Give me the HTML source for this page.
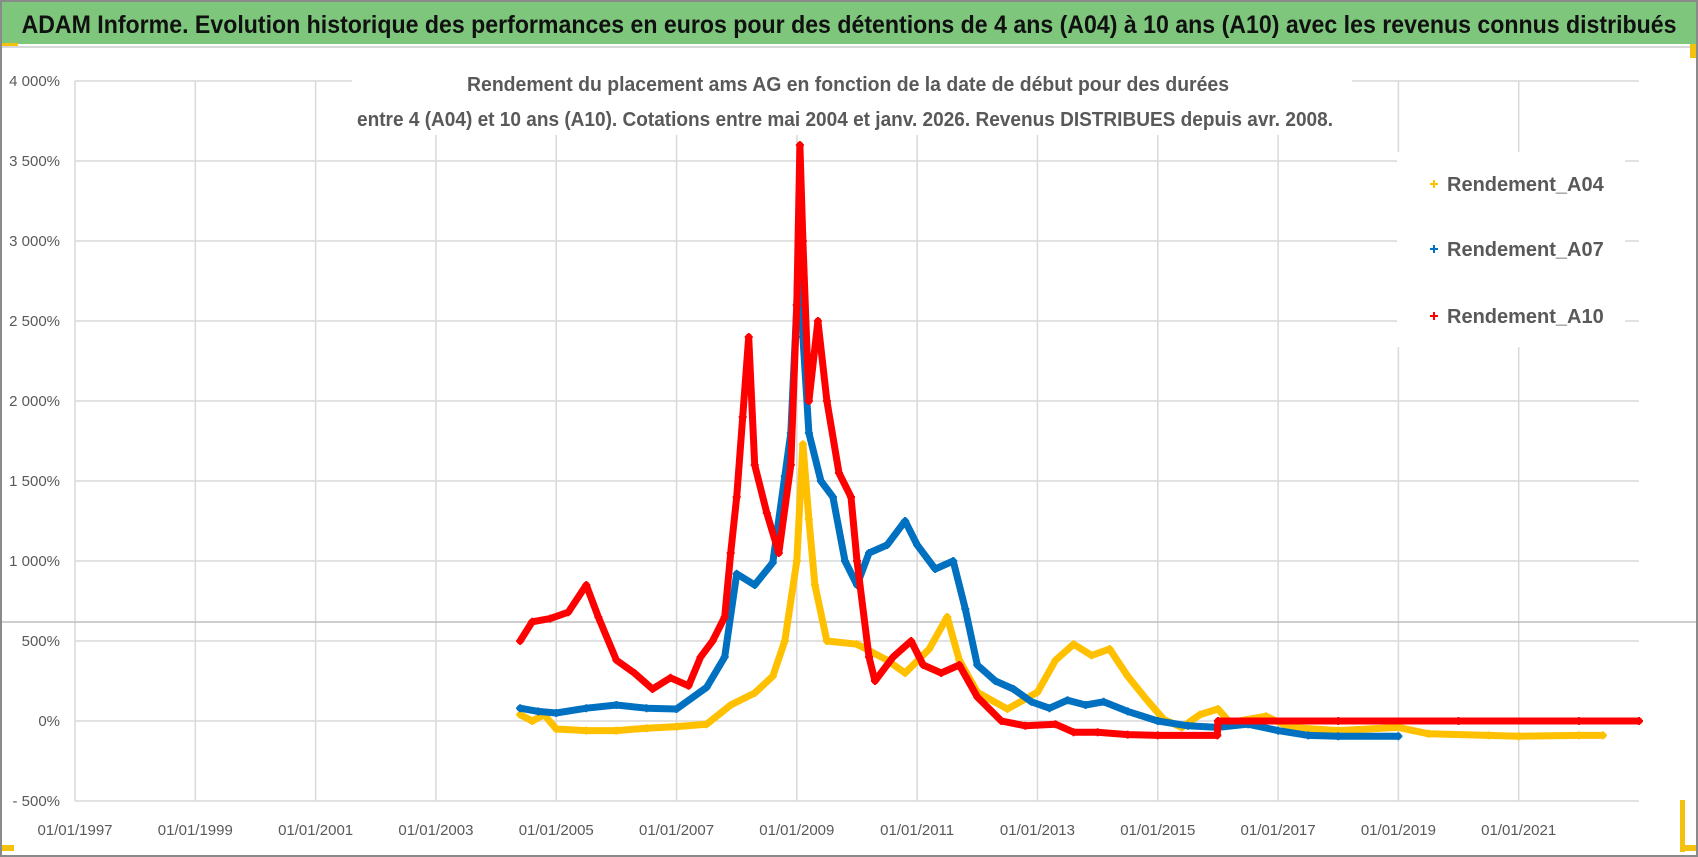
<!DOCTYPE html>
<html><head><meta charset="utf-8"><style>
html,body{margin:0;padding:0;background:#fff;}
svg{display:block;font-family:"Liberation Sans Narrow","Liberation Sans",sans-serif;}
</style></head><body>
<svg id="chart" width="1698" height="857" viewBox="0 0 1698 857" xmlns="http://www.w3.org/2000/svg">
<rect x="0" y="0" width="1698" height="857" fill="#fff"/>
<rect x="1" y="1" width="1696" height="855" fill="none" stroke="#8a8a8a" stroke-width="2"/>
<rect x="2" y="2" width="1694" height="42" fill="#7dc67c"/>
<text x="849" y="33" text-anchor="middle" font-size="25" font-weight="bold" fill="#111" textLength="1655" lengthAdjust="spacingAndGlyphs">ADAM Informe. Evolution historique des performances en euros pour des détentions de 4 ans (A04) à 10 ans (A10) avec les revenus connus distribués</text>
<line x1="2" y1="47" x2="1696" y2="47" stroke="#d8d8d8" stroke-width="2"/>
<rect x="2" y="43" width="16" height="3" fill="#f4c10f"/>
<rect x="2" y="845" width="12" height="6" fill="#f4c10f"/>
<rect x="1680" y="800" width="5" height="52" fill="#f4c10f"/>
<rect x="1680" y="845" width="16" height="6" fill="#f4c10f"/>
<rect x="1690" y="44" width="6" height="14" fill="#f4c10f"/>
<g id="grid"></g>
<g id="axes"></g>
<line x1="2" y1="622" x2="1696" y2="622" stroke="#bdbdbd" stroke-width="1.5"/>
<rect x="352" y="60" width="1000" height="75" fill="#fff"/>
<text x="848" y="91" text-anchor="middle" font-size="20" font-weight="bold" fill="#595959" textLength="762" lengthAdjust="spacingAndGlyphs">Rendement du placement ams AG en fonction de la date de début pour des durées</text>
<text x="845" y="126" text-anchor="middle" font-size="20" font-weight="bold" fill="#595959" textLength="976" lengthAdjust="spacingAndGlyphs">entre 4 (A04) et 10 ans (A10).  Cotations entre mai 2004 et janv. 2026. Revenus DISTRIBUES depuis avr. 2008.</text>
<g id="series"></g>
<g id="legend">
<rect x="1397" y="152" width="228" height="195" fill="#fff"/>
</g>
</svg>
<script>
const NS='http://www.w3.org/2000/svg';
const yTicks=[4000,3500,3000,2500,2000,1500,1000,500,0,-500];
const yTickLabels=['4 000%','3 500%','3 000%','2 500%','2 000%','1 500%','1 000%','500%','0%','- 500%'];
const xTicks=[1997,1999,2001,2003,2005,2007,2009,2011,2013,2015,2017,2019,2021];
const xTickLabels=['01/01/1997','01/01/1999','01/01/2001','01/01/2003','01/01/2005','01/01/2007','01/01/2009','01/01/2011','01/01/2013','01/01/2015','01/01/2017','01/01/2019','01/01/2021'];
const seriesNames=['Rendement_A04','Rendement_A07','Rendement_A10'];
const a04Years=[2004.4,2004.6,2004.8,2005.0,2005.5,2006.0,2006.5,2007.0,2007.5,2007.9,2008.3,2008.6,2008.8,2009.0,2009.1,2009.2,2009.3,2009.5,2010.0,2010.5,2010.8,2011.2,2011.5,2011.7,2012.0,2012.5,2013.0,2013.3,2013.6,2013.9,2014.2,2014.5,2014.8,2015.1,2015.4,2015.7,2016.0,2016.2,2016.8,2017.2,2018.0,2019.0,2019.5,2020.5,2021.0,2022.0,2022.4];
const a04Values=[40,0,40,-50,-60,-60,-45,-35,-20,100,175,280,500,1000,1730,1260,850,500,480,380,300,450,650,380,180,75,180,380,480,410,450,280,140,10,-40,40,75,-10,30,-40,-60,-40,-80,-90,-95,-90,-90];
const a07Years=[2004.4,2004.7,2005.0,2005.5,2006.0,2006.5,2007.0,2007.5,2007.8,2008.0,2008.3,2008.6,2008.8,2008.9,2009.0,2009.05,2009.1,2009.2,2009.4,2009.6,2009.8,2010.0,2010.2,2010.5,2010.8,2011.0,2011.3,2011.6,2011.8,2012.0,2012.3,2012.6,2012.9,2013.2,2013.5,2013.8,2014.1,2014.5,2015.0,2015.5,2016.0,2016.5,2017.0,2017.5,2018.0,2019.0];
const a07Values=[80,60,50,80,100,80,75,210,400,920,850,990,1530,1800,2600,3280,2400,1800,1500,1400,1000,850,1050,1100,1250,1100,950,1000,700,350,250,200,120,80,130,100,120,60,0,-30,-40,-20,-60,-90,-95,-95];
const a10Years=[2004.4,2004.6,2004.9,2005.2,2005.5,2005.7,2006.0,2006.3,2006.6,2006.9,2007.2,2007.4,2007.6,2007.8,2007.9,2008.0,2008.1,2008.2,2008.3,2008.5,2008.7,2008.9,2009.0,2009.05,2009.1,2009.2,2009.35,2009.5,2009.7,2009.9,2010.0,2010.2,2010.3,2010.6,2010.9,2011.1,2011.4,2011.7,2012.0,2012.4,2012.8,2013.3,2013.6,2014.0,2014.5,2015.0,2015.99,2016.0,2018.0,2020.0,2022.0,2023.0];
const a10Values=[500,620,640,680,850,650,380,300,200,270,220,400,500,650,1050,1400,1900,2400,1600,1300,1050,1600,2600,3600,3000,2000,2500,2000,1550,1400,1000,400,250,400,500,350,300,350,150,0,-30,-20,-70,-70,-85,-90,-90,0,0,0,0,0];
const colors=['#ffc000','#0070c0','#ff0000'];

const L=75,R=1639,T=81,B=801;
function xs(yr){return L+(yr-1997)/(2023-1997)*(R-L);}
function ys(v){return B-(v+500)/4500*(B-T);}
function mk(tag,attrs,parent){const e=document.createElementNS(NS,tag);for(const k in attrs)e.setAttribute(k,attrs[k]);parent.appendChild(e);return e;}

const grid=document.getElementById('grid');
yTicks.forEach((v,i)=>{
  const ln=mk('line',{x1:L,x2:R,y1:ys(v),y2:ys(v),stroke:'#d9d9d9','stroke-width':1.5},grid);
  
  
  const t=mk('text',{x:60,y:ys(v)+5,'text-anchor':'end','font-size':15,fill:'#595959'},grid);
  t.textContent=yTickLabels[i];
  
  
});
xTicks.forEach((yr,i)=>{
  const ln=mk('line',{x1:xs(yr),x2:xs(yr),y1:T,y2:B,stroke:'#d9d9d9','stroke-width':1.5},grid);
  
  
  const t=mk('text',{x:xs(yr),y:835,'text-anchor':'middle','font-size':15,fill:'#595959'},grid);
  t.textContent=xTickLabels[i];
  
  
});

const sg=document.getElementById('series');
const allYears=[a04Years,a07Years,a10Years];
const allValues=[a04Values,a07Values,a10Values];
[0,1,2].forEach(s=>{
  const g=mk('g',{},sg);
  
  
  const yrs=allYears[s],vals=allValues[s];
  const pts=yrs.map((y,i)=>xs(y).toFixed(1)+','+ys(vals[i]).toFixed(1)).join(' ');
  const pl=mk('polyline',{points:pts,fill:'none',stroke:colors[s],'stroke-width':7,'stroke-linejoin':'round','stroke-linecap':'round'},g);
  
  
  yrs.forEach((y,i)=>{
    const x=xs(y),yy=ys(vals[i]);
    const p=mk('path',{d:`M${x-4},${yy}H${x+4}M${x},${yy-4}V${yy+4}`,stroke:colors[s],'stroke-width':2},g);
    
    
  });
});

const lg=document.getElementById('legend');
const legY=[184,249,316];
seriesNames.forEach((n,i)=>{
  const p=mk('path',{d:`M${1430},${legY[i]}H${1438}M${1434},${legY[i]-4}V${legY[i]+4}`,stroke:colors[i],'stroke-width':2},lg);
  
  
  const t=mk('text',{x:1447,y:legY[i]+7,'font-size':20,'font-weight':'bold',fill:'#595959'},lg);
  t.textContent=n;
  
  
});
</script>
</body></html>
